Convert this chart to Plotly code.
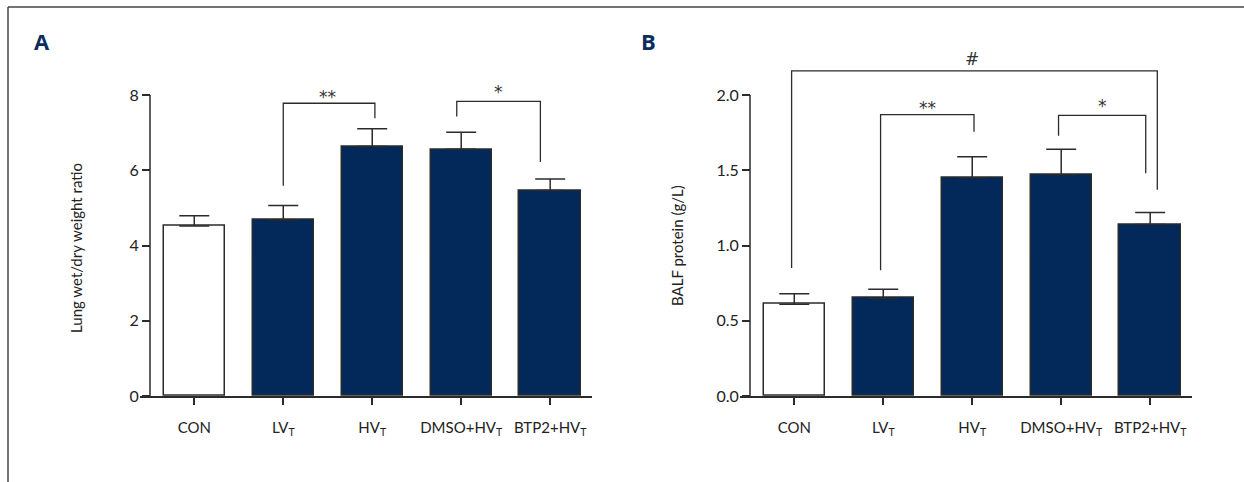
import plotly.graph_objects as go

# ---------------- data ----------------
categories = ["CON", "LV<sub>T</sub>", "HV<sub>T</sub>", "DMSO+HV<sub>T</sub>", "BTP2+HV<sub>T</sub>"]
x_pos = [0, 1, 2, 3, 4]

ratio_mean = [4.52, 4.68, 6.63, 6.56, 5.46]
ratio_upper = [4.79, 5.06, 7.10, 7.01, 5.77]
balf_mean = [0.61, 0.65, 1.45, 1.47, 1.14]
balf_upper = [0.68, 0.71, 1.59, 1.64, 1.22]

ratio_ticks = [0, 2, 4, 6, 8]
ratio_ticktext = ["0", "2", "4", "6", "8"]
balf_ticks = [0.0, 0.5, 1.0, 1.5, 2.0]
balf_ticktext = ["0.0", "0.5", "1.0", "1.5", "2.0"]

# significance brackets: (label, x points, y points, label x, label y)
ratio_brackets = [
    ("**", [1.0, 1.0, 2.03, 2.03], [5.59, 7.78, 7.78, 7.38], 1.5, 7.96),
    ("*", [2.95, 2.95, 3.89, 3.89], [7.43, 7.83, 7.83, 6.22], 3.42, 8.07),
]
balf_brackets = [
    ("#", [-0.03, -0.03, 4.08, 4.08], [0.85, 2.16, 2.16, 1.37], 2.0, 2.236),
    ("**", [0.97, 0.97, 2.02, 2.02], [0.835, 1.87, 1.87, 1.756], 1.5, 1.915),
    ("*", [2.97, 2.97, 3.95, 3.95], [1.73, 1.864, 1.864, 1.48], 3.46, 1.93),
]

# ---------------- styling ----------------
W, H = 1244, 482
NAVY = "#03295a"
LINE = "#2b2b2b"
XTICKFONT = dict(family="Lato, Roboto, sans-serif", size=15, color="#222222")
YTICKFONT = dict(family="Lato, Roboto, sans-serif", size=16, color="#222222")
TITLEFONT = dict(family="Lato, Roboto, sans-serif", size=15, color="#222222")
MARKFONT = dict(family="DejaVu Sans, sans-serif", size=17, color="#333333")
bar_colors = ["#ffffff", NAVY, NAVY, NAVY, NAVY]

xr = [-0.61, 4.47]
panels = [
    dict(xd=(140, 592), ypx=150, yr=[0, 8.7], ymax=8, ppu=37.625, mean=ratio_mean, upper=ratio_upper,
         ticks=ratio_ticks, ticktext=ratio_ticktext, brackets=ratio_brackets,
         title="Lung wet/dry weight ratio", title_x=76, title_y=248, letter="A", letter_x=42),
    dict(xd=(740, 1192), ypx=750, yr=[0, 2.3], ymax=2.0, ppu=150.5, mean=balf_mean, upper=balf_upper,
         ticks=balf_ticks, ticktext=balf_ticktext, brackets=balf_brackets,
         title="BALF protein (g/L)", title_x=677, title_y=245, letter="B", letter_x=649),
]
y0_px = 86  # distance from bottom of figure to the zero line

fig = go.Figure()
shapes = []
annotations = []

for i, p in enumerate(panels):
    sfx = "" if i == 0 else str(i + 1)
    xa, ya = "x" + sfx, "y" + sfx
    err_plus = [u - m for u, m in zip(p["upper"], p["mean"])]
    fig.add_trace(go.Bar(
        x=x_pos, y=p["mean"], xaxis=xa, yaxis=ya, width=0.69,
        marker=dict(color=bar_colors, line=dict(color=LINE, width=1.5)),
        error_y=dict(type="data", symmetric=False, array=err_plus, arrayminus=[0] * 5,
                     color=LINE, thickness=1.5, width=15),
        showlegend=False, hoverinfo="skip",
    ))
    for lab, bx, by, lx, ly in p["brackets"]:
        fig.add_trace(go.Scatter(x=bx, y=by, xaxis=xa, yaxis=ya, mode="lines",
                                 line=dict(color=LINE, width=1.3), showlegend=False, hoverinfo="skip"))
        annotations.append(dict(x=lx, y=ly, xref=xa, yref=ya, text=lab, showarrow=False,
                                font=MARKFONT, yanchor="middle"))

    xd = (p["xd"][0] / W, p["xd"][1] / W)
    ytop_px = y0_px + p["yr"][1] * p["ppu"]
    yd = (y0_px / H, ytop_px / H)
    fig.update_layout(**{
        "xaxis" + sfx: dict(domain=xd, range=xr, anchor=ya, showgrid=False, zeroline=False,
                             showline=True, linecolor=LINE, linewidth=1.5, automargin=False,
                             ticks="outside", ticklen=7, tickwidth=1.5, tickcolor=LINE,
                             ticklabelstandoff=10,
                             tickvals=x_pos, ticktext=categories, tickfont=XTICKFONT),
        "yaxis" + sfx: dict(domain=yd, range=p["yr"], anchor="free", position=p["ypx"] / W,
                             showgrid=False, zeroline=False, showline=False, automargin=False,
                             ticks="outside", ticklen=8, tickwidth=1.5, tickcolor=LINE,
                             tickvals=p["ticks"], ticktext=p["ticktext"], tickfont=YTICKFONT),
    })
    yline_x = xr[0] + (p["ypx"] - p["xd"][0]) / (p["xd"][1] - p["xd"][0]) * (xr[1] - xr[0])
    shapes.append(dict(type="line", xref=xa, yref=ya, x0=yline_x, x1=yline_x, y0=0, y1=p["ymax"],
                       line=dict(color=LINE, width=1.5)))
    annotations.append(dict(x=p["title_x"] / W, y=1 - p["title_y"] / H, xref="paper", yref="paper",
                            text=p["title"], textangle=-90, showarrow=False, font=TITLEFONT,
                            xanchor="center", yanchor="middle"))
    annotations.append(dict(x=p["letter_x"] / W, y=1 - 41 / H, xref="paper", yref="paper",
                            text="<b>%s</b>" % p["letter"], showarrow=False,
                            font=dict(family="Open Sans, sans-serif", size=22, color="#0b2d5e"),
                            xanchor="center", yanchor="middle"))

shapes.append(dict(type="line", xref="paper", yref="paper", x0=8 / W, x1=8 / W, y0=0, y1=1 - 7 / H,
                   line=dict(color="#444444", width=1.5)))
shapes.append(dict(type="line", xref="paper", yref="paper", x0=8 / W, x1=1, y0=1 - 7 / H, y1=1 - 7 / H,
                   line=dict(color="#444444", width=1.5)))

fig.update_layout(width=W, height=H, margin=dict(l=0, r=0, t=0, b=0, pad=0, autoexpand=False),
                  paper_bgcolor="white", plot_bgcolor="rgba(0,0,0,0)",
                  shapes=shapes, annotations=annotations, bargap=0)

page_fix = (
    "document.documentElement.style.margin='0';"
    "document.body.style.margin='0';"
    "document.body.style.lineHeight='0';"
    "document.body.style.overflow='hidden';"
    "document.querySelectorAll('.svg-container').forEach(function(e){e.style.verticalAlign='top';e.style.display='block';});"
)
fig.write_html("out.html", config={"displayModeBar": False}, post_script=page_fix)
